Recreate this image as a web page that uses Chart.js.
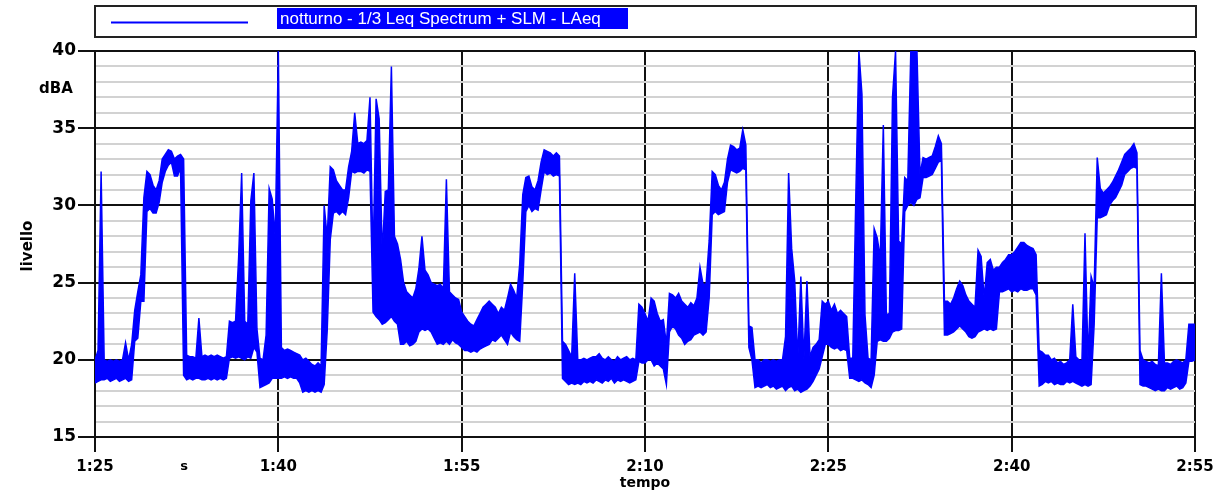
<!DOCTYPE html>
<html>
<head>
<meta charset="utf-8">
<script src="https://cdn.jsdelivr.net/npm/chart.js@4.4.1/dist/chart.umd.min.js"></script>
<style>
  html, body { margin: 0; padding: 0; background: #fff; }
  #wrap { width: 1226px; height: 495px; }
</style>
</head>
<body>
<div id="wrap"><canvas id="levelChart" width="1226" height="495"></canvas></div>
<script>
// time axis in minutes (1:25 = 85), one slot every 15 s
const startMinute = 85;
const stepMinutes = 0.25;

// LAeq trace, read off the plot as the top / bottom of the trace in each slot (dBA)
// each row covers 15 minutes
const upper1 = [
  20.0, 20.6, 32.2, 20.0,  19.9, 20.0, 19.9, 20.0,  19.9, 20.0, 21.1, 20.0,
  21.0, 23.2, 24.4, 25.5,  30.5, 32.2, 32.0, 31.3,  31.0, 31.6, 33.0, 33.3,
  33.6, 33.5, 33.0, 33.2,  33.3, 33.0, 20.3, 20.2,  20.2, 20.1, 22.7, 20.2,
  20.3, 20.2, 20.3, 20.2,  20.3, 20.2, 20.1, 20.2,  22.5, 22.4, 22.5, 26.6,
  32.1, 22.5, 22.3, 30.3,  32.1, 22.0, 20.1, 20.0,  21.6, 31.1, 30.4, 27.9
];
const lower1 = [
  18.5, 18.6, 18.7, 18.7,  18.8, 18.6, 18.7, 18.8,  18.6, 18.7, 18.8, 18.6,
  18.7, 21.2, 21.4, 23.8,  23.8, 29.6, 29.8, 29.5,  29.5, 30.2, 31.5, 32.2,
  32.6, 32.8, 31.9, 31.9,  32.4, 19.0, 18.7, 18.8,  18.7, 18.8, 18.8, 18.7,
  18.7, 18.8, 18.7, 18.8,  18.7, 18.8, 18.7, 18.8,  20.1, 20.2, 20.1, 20.2,
  20.1, 20.0, 20.2, 20.1,  20.8, 20.5, 18.2, 18.3,  18.4, 18.5, 18.8, 18.8
];
const upper2 = [
  40.0, 20.8, 20.6, 20.7,  20.6, 20.5, 20.4, 20.3,  20.0, 20.1, 19.9, 19.7,
  19.6, 19.8, 19.6, 30.0,  27.9, 32.5, 32.3, 31.6,  31.3, 31.0, 31.0, 32.5,
  33.5, 36.0, 34.0, 34.1,  34.0, 34.2, 37.0, 26.4,  36.9, 35.6, 26.8, 30.9,
  31.0, 39.0, 28.0, 27.5,  26.5, 25.0, 24.4, 24.2,  24.0, 24.6, 25.9, 28.0,
  25.8, 25.5, 25.0, 24.9,  24.8, 24.9, 24.6, 31.7,  24.4, 24.2, 24.0, 23.9
];
const lower2 = [
  18.8, 18.8, 18.9, 18.8,  18.9, 18.8, 18.8, 18.5,  17.9, 18.0, 17.9, 18.0,
  17.9, 18.0, 17.9, 18.4,  21.9, 27.8, 29.5, 29.6,  29.4, 29.6, 29.4, 30.5,
  32.2, 32.1, 32.2, 32.2,  32.1, 32.3, 32.2, 23.1,  22.8, 22.6, 22.3, 22.4,
  22.6, 22.8, 22.5, 22.3,  21.0, 21.0, 21.2, 20.9,  21.0, 21.2, 21.8, 22.0,
  21.9, 22.0, 21.8, 21.4,  21.0, 21.1, 21.0, 21.2,  21.0, 21.3, 21.1, 21.0
];
const upper3 = [
  23.1, 22.8, 22.5, 22.3,  22.2, 22.6, 23.0, 23.4,  23.6, 23.8, 23.6, 23.4,
  23.0, 23.4, 23.2, 24.0,  24.9, 24.5, 24.0, 26.2,  30.7, 31.8, 31.9, 31.2,
  31.0, 31.6, 32.8, 33.6,  33.5, 33.4, 33.2, 33.4,  33.2, 21.2, 21.0, 20.6,
  20.2, 25.6, 20.0, 20.0,  20.1, 20.0, 20.1, 20.2,  20.2, 20.4, 20.1, 20.0,
  20.2, 20.0, 19.9, 20.2,  20.0, 20.1, 20.2, 20.0,  20.1, 20.0, 23.6, 23.4
];
const lower3 = [
  20.8, 20.6, 20.6, 20.5,  20.6, 20.5, 20.7, 20.8,  20.9, 21.0, 21.3, 21.2,
  21.4, 21.6, 21.3, 21.0,  21.8, 21.5, 21.3, 21.2,  25.0, 29.6, 30.0, 29.6,
  29.8, 29.7, 31.0, 32.2,  32.0, 32.1, 31.9, 32.0,  31.9, 18.8, 18.6, 18.4,
  18.5, 18.4, 18.5, 18.4,  18.6, 18.5, 18.6, 18.5,  18.7, 18.6, 18.5, 18.7,
  18.6, 18.8, 18.5, 18.7,  18.6, 18.7, 18.6, 18.5,  18.6, 18.7, 19.9, 19.8
];
const upper4 = [
  23.0, 22.5, 24.0, 23.8,  23.0, 22.5, 22.6, 21.0,  24.3, 24.2, 24.0, 24.3,
  23.8, 23.6, 23.4, 23.7,  23.5, 24.0, 26.0, 24.9,  24.9, 27.7, 32.2, 32.0,
  31.3, 31.0, 31.5, 33.0,  33.9, 33.8, 33.6, 33.7,  34.9, 33.9, 22.2, 22.1,
  20.0, 20.0, 19.8, 20.0,  20.0, 19.9, 20.0, 19.9,  20.0, 20.0, 21.5, 32.1,
  27.2, 25.1, 20.0, 25.4,  20.0, 25.1, 20.2, 20.8,  21.0, 21.3, 23.8, 23.6
];
const lower4 = [
  19.8, 20.0, 20.0, 19.6,  19.8, 19.6, 19.4, 18.4,  21.8, 22.2, 22.0, 21.6,
  21.4, 21.0, 21.2, 21.3,  21.6, 21.7, 21.8, 21.6,  21.8, 24.0, 29.4, 29.6,
  29.4, 29.5, 29.6, 31.5,  32.3, 32.2, 32.1, 32.2,  32.4, 32.3, 20.8, 20.0,
  18.2, 18.3, 18.2, 18.3,  18.4, 18.2, 18.3, 18.1,  18.2, 18.3, 18.0, 18.2,
  18.3, 18.0, 18.1, 17.9,  18.0, 18.1, 18.3, 18.6,  19.0, 19.4, 20.2, 21.0
];
const upper5 = [
  23.8, 23.2, 23.6, 23.0,  23.2, 23.0, 22.8, 20.1,  20.1, 30.6, 40.0, 37.2,
  22.9, 20.1, 20.0, 28.5,  27.9, 26.6, 35.2, 22.9,  23.0, 37.0, 40.0, 27.7,
  27.5, 31.8, 31.6, 40.0,  40.0, 40.0, 32.0, 33.1,  33.0, 33.1, 33.2, 33.8,
  34.5, 34.0, 23.8, 23.8,  23.6, 24.0, 24.6, 25.1,  24.8, 24.2, 23.8, 23.6,
  23.4, 27.1, 26.7, 24.0,  26.3, 26.5, 25.8, 26.0,  26.0, 26.3, 26.5, 26.8
];
const lower5 = [
  21.0, 20.8, 20.7, 20.8,  20.6, 20.7, 20.6, 18.8,  18.8, 18.7, 18.6, 18.7,
  18.5, 18.4, 18.2, 19.0,  21.2, 21.3, 21.2, 21.2,  21.4, 21.8, 21.9, 21.9,
  22.0, 29.6, 30.0, 30.2,  30.0, 30.4, 30.5, 31.8,  31.8, 31.9, 32.0, 32.4,
  32.8, 32.9, 21.6, 21.6,  21.7, 21.8, 22.0, 22.2,  22.0, 21.8, 21.5, 21.4,
  21.5, 21.8, 21.9, 22.0,  21.9, 22.0, 21.9, 22.0,  24.4, 24.4, 24.5, 24.6
];
const upper6 = [
  26.8, 27.0, 27.3, 27.6,  27.6, 27.4, 27.3, 27.2,  26.8, 20.6, 20.5, 20.3,
  20.3, 20.0, 20.1, 19.8,  19.9, 19.7, 19.8, 20.0,  23.6, 20.2, 20.0, 19.9,
  28.2, 20.0, 25.4, 24.7,  33.1, 31.1, 30.8, 31.0,  31.2, 31.5, 31.9, 32.3,
  32.8, 33.3, 33.5, 33.7,  34.0, 33.4, 20.6, 20.0,  19.9, 19.8, 19.9, 19.7,
  19.6, 25.6, 19.8, 19.8,  19.7, 19.9, 20.0, 19.9,  19.8, 20.0, 22.3, 22.3,
  22.3
];
const lower6 = [
  24.4, 24.5, 24.4, 24.6,  24.5, 24.5, 24.6, 24.6,  24.2, 18.3, 18.4, 18.6,
  18.5, 18.6, 18.4, 18.5,  18.4, 18.4, 18.6, 18.5,  18.6, 18.5, 18.4, 18.3,
  18.4, 18.3, 18.4, 22.3,  29.2, 29.2, 29.3, 29.4,  30.0, 30.3, 30.5, 30.9,
  31.3, 32.0, 32.2, 32.4,  32.5, 32.4, 18.4, 18.3,  18.3, 18.2, 18.1, 18.0,
  18.1, 18.0, 18.0, 18.2,  18.1, 18.2, 18.3, 18.1,  18.2, 18.5, 19.9, 19.9,
  20.0
];

const timeLabels = ["1:25", "1:40", "1:55", "2:10", "2:25", "2:40", "2:55"];
const legendLabel = "notturno - 1/3 Leq Spectrum + SLM - LAeq";

const upper = [...upper1, ...upper2, ...upper3, ...upper4, ...upper5, ...upper6];
const lower = [...lower1, ...lower2, ...lower3, ...lower4, ...lower5, ...lower6];
const toPoints = arr => arr.map((v, i) => ({ x: startMinute + i * stepMinutes, y: v }));

const isMajor = ctx => ctx.tick && ctx.tick.value % 5 === 0;

const extraText = {
  id: "extraText",
  afterDraw(chart) {
    const c = chart.ctx;
    c.save();
    // legend box
    c.strokeStyle = "#222";
    c.lineWidth = 2;
    c.strokeRect(95, 6, 1101, 31);
    c.strokeStyle = "#0000ff";
    c.beginPath();
    c.moveTo(111, 22.5);
    c.lineTo(248, 22.5);
    c.stroke();
    c.fillStyle = "#0000ff";
    c.fillRect(277, 8, 351, 21);
    c.fillStyle = "#fff";
    c.font = "17px 'Liberation Sans', Arial, sans-serif";
    c.textBaseline = "middle";
    c.textAlign = "left";
    c.fillText(legendLabel, 280, 19, 345);

    c.fillStyle = "#000";
    c.textAlign = "center";
    c.font = "bold 15px 'DejaVu Sans'";
    c.fillText("dBA", 56, 89);
    c.font = "bold 14px 'DejaVu Sans'";
    c.fillText("tempo", 645, 483);
    c.font = "bold 13px 'DejaVu Sans'";
    c.fillText("s", 184, 467);

    c.translate(28, 246);
    c.rotate(-Math.PI / 2);
    c.font = "bold 15px 'DejaVu Sans'";
    c.fillText("livello", 0, 0);
    c.restore();
  }
};

new Chart(document.getElementById("levelChart"), {
  type: "line",
  data: {
    datasets: [{
      label: legendLabel,
      data: toPoints(upper),
      borderColor: "#0000ff",
      borderWidth: 1.5,
      pointRadius: 0,
      tension: 0,
      fill: false
    }, {
      label: "min",
      data: toPoints(lower),
      borderColor: "#0000ff",
      backgroundColor: "#0000ff",
      borderWidth: 1.5,
      pointRadius: 0,
      tension: 0,
      fill: "-1"
    }]
  },
  options: {
    responsive: false,
    animation: false,
    devicePixelRatio: 1,
    layout: { padding: { left: 0, top: 51, right: 31, bottom: 0 } },
    plugins: { legend: { display: false }, tooltip: { enabled: false } },
    scales: {
      x: {
        type: "linear",
        min: 85,
        max: 175,
        afterFit: s => { s.height = 58; },
        ticks: {
          stepSize: 15,
          autoSkip: false,
          maxRotation: 0,
          color: "#000",
          padding: 6,
          font: { family: "DejaVu Sans", size: 15, weight: "bold" },
          callback: (v, i) => timeLabels[i]
        },
        grid: { color: "#111", lineWidth: 2, tickLength: 15, tickColor: "#111", tickWidth: 2 },
        border: { color: "#111", width: 2 }
      },
      y: {
        min: 15,
        max: 40,
        afterFit: s => { s.width = 95; },
        ticks: {
          stepSize: 1,
          autoSkip: false,
          color: "#000",
          padding: 2,
          font: { family: "DejaVu Sans", size: 17, weight: "bold" },
          callback: v => (v % 5 === 0 ? String(v) : "")
        },
        grid: {
          color: c => (isMajor(c) ? "#111" : "#d2d2d2"),
          lineWidth: 2,
          tickLength: 17,
          tickColor: c => (isMajor(c) ? "#111" : "rgba(0,0,0,0)"),
          tickWidth: 2
        },
        border: { color: "#111", width: 2 }
      }
    }
  },
  plugins: [extraText]
});
</script>
</body>
</html>
